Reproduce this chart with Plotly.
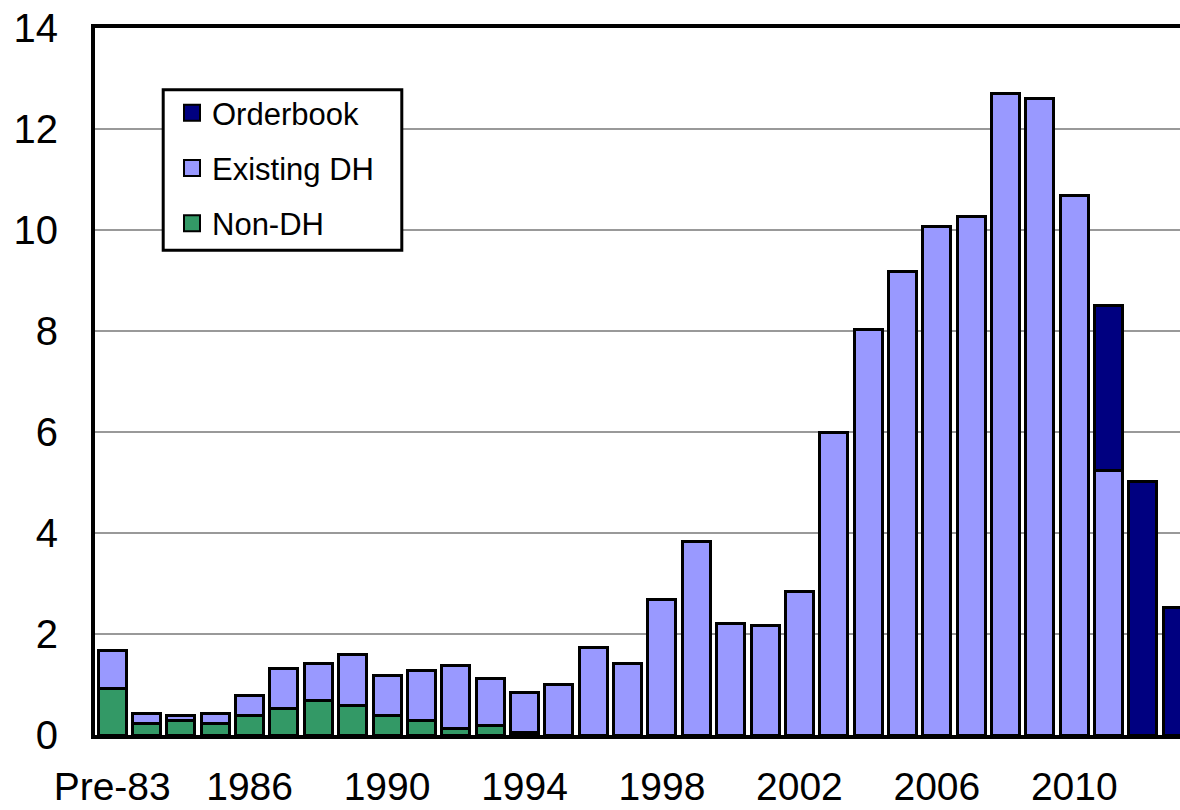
import plotly.graph_objects as go

# Categories: pre-1983 deliveries followed by each delivery year
categories = ["Pre-83"] + [str(y) for y in range(1983, 2014)]

# Stacked segments per delivery year
non_dh = [0.93, 0.22, 0.28, 0.22, 0.38, 0.53, 0.69, 0.58, 0.38, 0.28, 0.12, 0.18, 0.05,
          None, None, None, None, None, None, None, None, None, None, None, None, None,
          None, None, None, None, None, None]
existing_dh = [0.75, 0.21, 0.10, 0.21, 0.41, 0.78, 0.73, 1.01, 0.79, 0.99, 1.26, 0.93, 0.80,
               1.01, 1.74, 1.42, 2.69, 3.84, 2.21, 2.17, 2.85, 6.00, 8.03, 9.17, 10.06, 10.27,
               12.71, 12.61, 10.68, 5.23, None, None]
orderbook = [None] * 29 + [3.27, 5.02, 2.52]

tick_labels = categories[::4]
y_ticks = [0, 2, 4, 6, 8, 10, 12, 14]

FONT = "Liberation Sans, Arial, sans-serif"
C_ORDER = "#000080"
C_DH = "#9999FF"
C_NONDH = "#339966"

W, H = 1180, 810
M_L, M_R, M_T, M_B = 95, 0, 28, 75
PW, PH = W - M_L - M_R, H - M_T - M_B
STEP = 34.36  # pixels per category

fig = go.Figure()

outline = dict(color="black", width=3)
for name, vals, col in [("Non-DH", non_dh, C_NONDH),
                        ("Existing DH", existing_dh, C_DH),
                        ("Orderbook", orderbook, C_ORDER)]:
    fig.add_trace(go.Bar(x=categories, y=vals, name=name, showlegend=False,
                         marker=dict(color=col, line=outline)))

# Legend entries (square swatches)
for i, (name, col) in enumerate([("Orderbook", C_ORDER), ("Existing DH", C_DH), ("Non-DH", C_NONDH)]):
    fig.add_trace(go.Scatter(x=[None], y=[None], mode="markers", name=name,
                             legendgroup=f"g{i}",
                             marker=dict(symbol="square", size=16, color=col,
                                         line=dict(color="black", width=2))))

def px_x(p):
    return (p - M_L) / PW

def px_y(p):
    return (M_T + PH - p) / PH

# Legend frame
fig.add_shape(type="rect", xref="paper", yref="paper",
              x0=px_x(163.2), x1=px_x(401.8), y0=px_y(250.2), y1=px_y(89.8),
              line=dict(color="black", width=3), fillcolor="white", layer="above")

fig.update_layout(
    width=W, height=H,
    margin=dict(l=M_L, r=M_R, t=M_T, b=M_B, pad=0, autoexpand=False),
    paper_bgcolor="white", plot_bgcolor="white",
    barmode="stack", bargap=0.185,
    font=dict(family=FONT, color="black"),
    showlegend=True,
    legend=dict(x=px_x(172), y=px_y(86), xanchor="left", yanchor="top",
                bgcolor="rgba(0,0,0,0)", borderwidth=0,
                font=dict(family=FONT, size=31, color="black"),
                traceorder="grouped", tracegroupgap=12),
    xaxis=dict(type="category", categoryorder="array", categoryarray=categories,
               range=[-0.5, -0.5 + PW / STEP], automargin=False,
               tickmode="array", tickvals=tick_labels, ticktext=tick_labels,
               tickfont=dict(family=FONT, size=39, color="black"),
               ticks="", ticklabelstandoff=14,
               showline=True, linecolor="black", linewidth=4, mirror=True,
               showgrid=False, zeroline=False, fixedrange=True),
    yaxis=dict(range=[0, 14], tickmode="array", tickvals=y_ticks, automargin=False,
               tickfont=dict(family=FONT, size=40, color="black"),
               ticks="", ticklabelstandoff=25,
               showline=True, linecolor="black", linewidth=4, mirror=False,
               showgrid=True, gridcolor="#999999", gridwidth=2,
               zeroline=False, fixedrange=True),
)

fig.write_html("out.html")
